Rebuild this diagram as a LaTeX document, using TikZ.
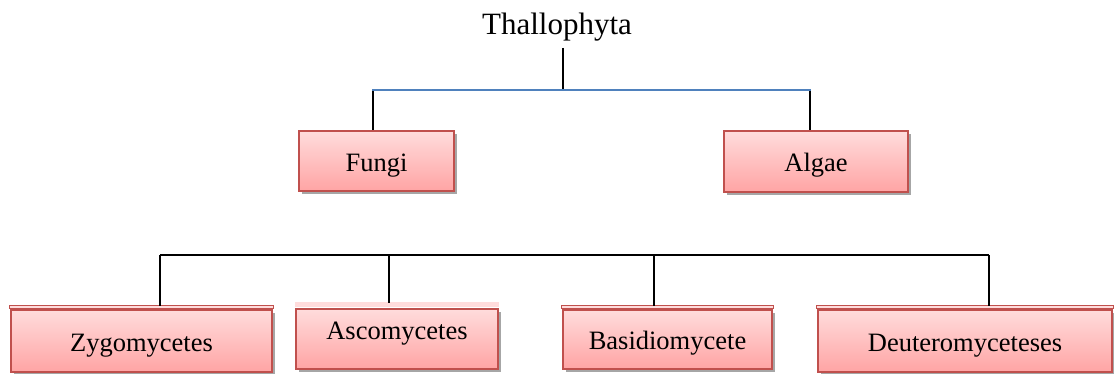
\documentclass[tikz,border=0pt]{standalone}
\usepackage{fontspec}
\setmainfont{Liberation Serif}
\usetikzlibrary{shadows}
\definecolor{boxborder}{HTML}{C0504D}
\definecolor{boxtop}{HTML}{FFDCDC}
\definecolor{boxbot}{HTML}{FFA4A4}
\definecolor{topline}{HTML}{4F81BD}
\tikzset{
  catbox/.style={draw=boxborder, line width=2.4pt, top color=boxtop, bottom color=boxbot,
    drop shadow={shadow xshift=2.5pt, shadow yshift=-3pt, fill=black, opacity=0.35},
    inner sep=0pt, font=\fontsize{26.5}{30}\selectfont, text height=20pt, text depth=0pt},
  link/.style={draw=black, line width=2pt},
  bluelink/.style={draw=topline, line width=2pt},
  stripe/.style={draw=boxborder, line width=1.2pt, fill=boxtop},
}
\begin{document}
\begin{tikzpicture}[x=1pt, y=-1pt]
\useasboundingbox[fill=white] (0,0) rectangle (1114,373);
% root
\node[anchor=base, inner sep=7pt, font=\fontsize{31}{34}\selectfont] (thal) at (557,34) {Thallophyta};
% level 1
\node[catbox, minimum width=155pt, minimum height=60pt] (fungi) at (376.5,161) {Fungi};
\node[catbox, minimum width=184pt, minimum height=61pt] (algae) at (816,161.5) {Algae};
% level 2
\node[catbox, minimum width=261pt, minimum height=62pt] (zyg) at (141.5,341) {Zygomycetes};
\node[catbox, minimum width=202pt, minimum height=60pt, text height=6pt, text depth=6pt] (asco) at (397,339) {Ascomycetes};
\node[catbox, minimum width=209pt, minimum height=59pt] (basid) at (667.5,339.5) {Basidiomycete};
\node[catbox, minimum width=294pt, minimum height=62pt] (deut) at (965,341) {Deuteromyceteses};
% stacked top edges
\draw[stripe] ([yshift=3pt]zyg.north west) rectangle (zyg.north east);
\draw[stripe] ([yshift=3pt]basid.north west) rectangle (basid.north east);
\draw[stripe] ([yshift=3pt]deut.north west) rectangle (deut.north east);
\fill[boxtop] ([yshift=6pt]asco.north west) rectangle ([yshift=1.2pt]asco.north east);
% junctions
\coordinate (j0) at (563,89.5);
\coordinate (jf) at (373,89.5);
\coordinate (ja) at (810,89.5);
\coordinate (b1) at (160,255);
\coordinate (b2) at (389,255);
\coordinate (b3) at (654,255);
\coordinate (b4) at (989,255);
% connectors
\draw[link] (j0 |- thal.south) -- (j0);
\draw[link] (jf) -- (jf |- fungi.north);
\draw[link] (ja) -- (ja |- algae.north);
\draw[bluelink, line cap=rect] (jf) -- (ja);
\draw[link] (b1) -- (b4);
\draw[link] (b1) -- ([yshift=3pt]b1 |- zyg.north);
\draw[link] (b2) -- ([yshift=5pt]b2 |- asco.north);
\draw[link] (b3) -- ([yshift=3pt]b3 |- basid.north);
\draw[link] (b4) -- ([yshift=3pt]b4 |- deut.north);
\end{tikzpicture}
\end{document}
